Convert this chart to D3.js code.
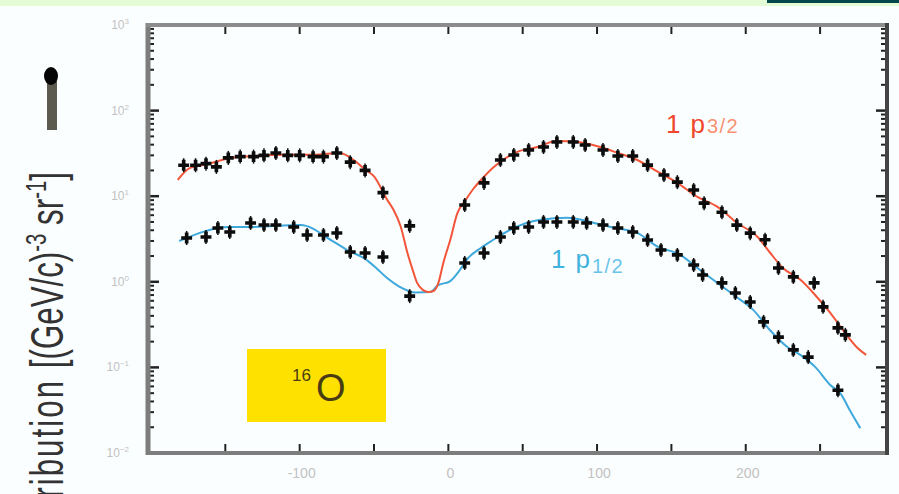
<!DOCTYPE html>
<html>
<head>
<meta charset="utf-8">
<script src="https://cdn.jsdelivr.net/npm/d3@7"></script>
<style>
  html, body { margin: 0; padding: 0; background: #fbfefe; }
  svg { display: block; font-family: "Liberation Sans", Arial, sans-serif; }
</style>
</head>
<body>
<svg id="chart" width="899" height="494"></svg>
<script>
// Missing-momentum axis (MeV/c) tick values
const xTickValues = [-100, 0, 100, 200];
const xTickMarks = [-150, -100, -50, 0, 50, 100, 150, 200, 250];
// Momentum distribution axis, decades
const yDecades = [-2, -1, 0, 1, 2, 3];

// 1p3/2 measured points [pm, rho]
const p32Points = [
  [-178, 23], [-170, 23], [-163, 24], [-156, 22], [-148, 28], [-140, 29],
  [-131, 29], [-124, 30], [-116, 32], [-108, 30], [-100, 30], [-91, 29],
  [-84, 29], [-75, 32], [-66, 25], [-56, 20], [-44, 11], [-26, 4.5],
  [11, 7.9], [24, 14.3], [35, 26.5], [44, 30.3], [54, 34.7], [64, 37.6],
  [73, 43], [84, 43], [92, 39.6], [104, 34.7], [114, 29.5], [124, 29.5],
  [134, 23.1], [145, 17.7], [154, 14.6], [165, 11.8], [172, 8.3],
  [184, 6.5], [194, 4.6], [203, 3.7], [213, 3.1], [222, 1.45], [232, 1.14],
  [246, 0.97], [252, 0.51], [262, 0.29], [267, 0.24]
];
// 1p1/2 measured points [pm, rho]
const p12Points = [
  [-176, 3.25], [-163, 3.34], [-155, 4.25], [-147, 3.82], [-133, 4.87],
  [-124, 4.61], [-116, 4.61], [-104, 4.37], [-95, 3.52], [-84, 3.52],
  [-75, 3.72], [-66, 2.23], [-56, 2.17], [-44, 1.95], [-26, 0.68],
  [11, 1.66], [24, 2.17], [35, 3.34], [44, 4.25], [54, 4.37], [64, 5.0],
  [73, 5.0], [84, 5.0], [93, 4.87], [104, 4.61], [114, 4.25], [124, 3.82],
  [134, 3.08], [143, 2.35], [154, 2.06], [165, 1.57], [171, 1.2],
  [184, 0.97], [193, 0.74], [203, 0.58], [212, 0.34], [222, 0.226],
  [232, 0.16], [242, 0.132], [262, 0.054]
];
// 1p3/2 calculated curve
const p32Curve = [
  [-182, 15.5], [-174, 21.3], [-163, 23.5], [-148, 27.5], [-130, 29.5],
  [-110, 30.5], [-90, 30.5], [-73, 32.0], [-62.5, 25.5], [-56, 20.5],
  [-50, 17], [-41, 9.0], [-37, 7.0], [-32, 4.4], [-27.6, 2.2], [-24, 1.38],
  [-21, 0.97], [-17, 0.80], [-13.4, 0.76], [-10, 0.78], [-6.7, 0.97],
  [-3.4, 1.66], [1.3, 3.1], [6, 6.3], [11.4, 8.9], [17, 12.3], [23, 16.2],
  [30, 21.5], [46, 32.8], [60, 37.6], [73, 44], [87, 43], [102, 37.6],
  [114, 32], [127, 26.5], [141, 19.2], [154, 14.3], [167.5, 9.8],
  [181, 7.5], [194, 4.9], [208, 3.34], [216.5, 2.17], [225, 1.45],
  [237, 1.05], [248, 0.66], [257, 0.43], [265.6, 0.27], [275, 0.17],
  [281, 0.14]
];
// 1p1/2 calculated curve
const p12Curve = [
  [-181, 3.0], [-147, 4.37], [-133, 4.37], [-99.5, 4.6], [-77, 2.92],
  [-68, 2.35], [-56, 1.85], [-48, 1.42], [-41, 1.1], [-33, 0.88],
  [-22, 0.75], [-12, 0.76], [-7.4, 0.9], [1.3, 1.02], [6.7, 1.3],
  [13.4, 1.9], [22, 2.5], [30, 3.08], [44, 4.25], [62, 5.3], [80, 5.6],
  [95.5, 5.0], [109, 4.37], [127, 3.72], [140.6, 2.58], [156, 2.06],
  [167.5, 1.45], [181, 0.97], [194, 0.66], [205, 0.47], [216.5, 0.27],
  [228, 0.173], [236.7, 0.14], [247, 0.10], [257, 0.062], [263.6, 0.05],
  [270, 0.0315], [277, 0.0195]
];

const svg = d3.select("#chart");

// Slide decoration strips
svg.append("rect").attr("x", 0).attr("y", 0).attr("width", 899).attr("height", 6).attr("fill", "#e4fcd6");
svg.append("rect").attr("x", 767).attr("y", 0).attr("width", 132).attr("height", 3).attr("fill", "#03474b");

const x = d3.scaleLinear().domain([-202, 295]).range([148, 887]);
const y = d3.scaleLog().domain([0.01, 1000]).range([453, 25]);

const gridColor = "#7d7d7d";
// Minor / major ticks (inward) on left & right axes
const yTicks = y.ticks();
yTicks.forEach(t => {
  const major = Math.abs(Math.log10(t) - Math.round(Math.log10(t))) < 1e-9;
  const len = major ? 11 : 6;
  svg.append("line").attr("x1", x(-202)).attr("x2", x(-202) + len)
    .attr("y1", y(t)).attr("y2", y(t)).attr("stroke", "#222").attr("stroke-width", major ? 2.5 : 2);
  svg.append("line").attr("x1", x(295)).attr("x2", x(295) - len)
    .attr("y1", y(t)).attr("y2", y(t)).attr("stroke", "#222").attr("stroke-width", major ? 2.5 : 2);
});
// x ticks on bottom and top
xTickMarks.forEach(v => {
  svg.append("line").attr("x1", x(v)).attr("x2", x(v)).attr("y1", y(0.01)).attr("y2", y(0.01) - 9)
    .attr("stroke", "#222").attr("stroke-width", 2);
  svg.append("line").attr("x1", x(v)).attr("x2", x(v)).attr("y1", y(1000)).attr("y2", y(1000) + 9)
    .attr("stroke", "#222").attr("stroke-width", 2);
});

// Frame
svg.append("line").attr("x1", x(-202)).attr("x2", x(-202)).attr("y1", y(1000) - 2).attr("y2", y(0.01) + 2)
  .attr("stroke", gridColor).attr("stroke-width", 5);
svg.append("line").attr("x1", x(-202) - 2).attr("x2", x(295) + 2).attr("y1", y(0.01)).attr("y2", y(0.01))
  .attr("stroke", gridColor).attr("stroke-width", 4);
svg.append("line").attr("x1", x(-202) - 2).attr("x2", x(295)).attr("y1", y(1000)).attr("y2", y(1000))
  .attr("stroke", "#8c8c8c").attr("stroke-width", 4);
svg.append("line").attr("x1", x(295)).attr("x2", x(295)).attr("y1", y(1000) - 2).attr("y2", y(0.01) + 2)
  .attr("stroke", "#444").attr("stroke-width", 4);

// y tick labels 10^n
const labelColor = "#c2c2c2";
yDecades.forEach(d => {
  const t = svg.append("text").attr("x", 129).attr("y", y(Math.pow(10, d)) + 4)
    .attr("text-anchor", "end").attr("fill", labelColor).attr("font-size", 12);
  t.append("tspan").text("10");
  t.append("tspan").attr("dy", -5).attr("font-size", 8).text(String(d).replace("-", "\u2212"));
});
// x tick labels
xTickValues.forEach(v => {
  svg.append("text").attr("x", x(v) + 2).attr("y", 478).attr("text-anchor", "middle")
    .attr("fill", labelColor).attr("font-size", 14).text(v < 0 ? "-" + Math.abs(v) : String(v));
});

// Curves
const line = d3.line().x(d => x(d[0])).y(d => y(d[1])).curve(d3.curveMonotoneX);
svg.append("path").datum(p12Curve).attr("d", line).attr("fill", "none")
  .attr("stroke", "#3ea8dc").attr("stroke-width", 2);
svg.append("path").datum(p32Curve).attr("d", line).attr("fill", "none")
  .attr("stroke", "#f2553a").attr("stroke-width", 2);

// Data points: crosses with error bars
const cross = d3.symbol().type(d3.symbolCross).size(66);
function drawPoints(data) {
  const g = svg.append("g");
  g.selectAll("line").data(data).join("line")
    .attr("x1", d => x(d[0])).attr("x2", d => x(d[0]))
    .attr("y1", d => y(d[1]) - 7).attr("y2", d => y(d[1]) + 7)
    .attr("stroke", "#111").attr("stroke-width", 1.5);
  g.selectAll("path").data(data).join("path")
    .attr("d", cross).attr("transform", d => `translate(${x(d[0])},${y(d[1])})`)
    .attr("fill", "#0c0c0c");
}
drawPoints(p12Points);
drawPoints(p32Points);

// Series labels
const l32 = svg.append("text").attr("x", 666).attr("y", 133).attr("fill", "#f0472c").attr("font-size", 26);
l32.append("tspan").text("1");
l32.append("tspan").attr("dx", 10).text("p");
l32.append("tspan").attr("dx", 2).attr("dy", 0).attr("font-size", 20).attr("letter-spacing", 1.5)
  .attr("fill", "#f79273").text("3/2");

const l12 = svg.append("text").attr("x", 551).attr("y", 268).attr("fill", "#3fb2e0").attr("font-size", 26);
l12.append("tspan").text("1");
l12.append("tspan").attr("dx", 10).text("p");
l12.append("tspan").attr("dx", 2).attr("dy", 5).attr("font-size", 20).attr("letter-spacing", 1.5)
  .attr("fill", "#67c4ea").text("1/2");

// Nucleus tag
svg.append("rect").attr("x", 247).attr("y", 349).attr("width", 139).attr("height", 73).attr("fill", "#ffe100");
const nuc = svg.append("text").attr("x", 292).attr("y", 401).attr("fill", "#4a3c12").attr("font-size", 38);
nuc.append("tspan").attr("font-size", 17).attr("dy", -20).text("16");
nuc.append("tspan").attr("dy", 20).attr("dx", 5).text("O");

// Y axis title (rotated; leading part runs off the bottom edge)
const yt = svg.append("text").attr("transform", "translate(63,172) rotate(-90) scale(0.68,1)")
  .attr("text-anchor", "end").attr("fill", "#333").attr("font-size", 46);
yt.append("tspan").attr("letter-spacing", 3).text("Momentum distribution ");
yt.append("tspan").text("[(GeV/c)");
yt.append("tspan").attr("dy", -17).attr("font-size", 30).text("-3");
yt.append("tspan").attr("dy", 17).text(" sr");
yt.append("tspan").attr("dy", -17).attr("font-size", 30).text("-1");
yt.append("tspan").attr("dy", 17).text("]");

// Marker glyph at upper left
svg.append("rect").attr("x", 47).attr("y", 78).attr("width", 10).attr("height", 52).attr("fill", "#5d5a50");
svg.append("ellipse").attr("cx", 51).attr("cy", 76).attr("rx", 7).attr("ry", 9).attr("fill", "#050505");
</script>
</body>
</html>
